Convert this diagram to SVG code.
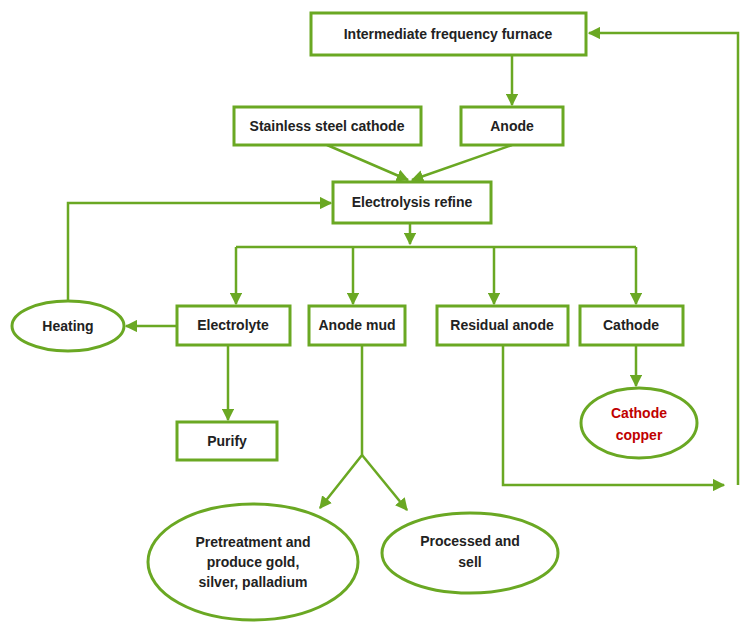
<svg xmlns="http://www.w3.org/2000/svg" width="750" height="634" viewBox="0 0 750 634">
<style>
.b{fill:#fff;stroke:#6aa823;stroke-width:3}
.t{font-family:"Liberation Sans",Arial,sans-serif;font-size:14px;font-weight:bold;fill:#222;text-anchor:middle}
.c{fill:none;stroke:#6aa823;stroke-width:2.5}
</style>
<defs><marker id="a" viewBox="0 0 10 10" refX="9" refY="5" markerWidth="5" markerHeight="5" orient="auto"><path d="M0,0L10,5L0,10z" fill="#6aa823"/></marker></defs>
<rect width="750" height="634" fill="#fff"/>
<g id="connectors" class="c">
<path d="M512,55V105" marker-end="url(#a)"/>
<path d="M327,145L408,180" marker-end="url(#a)"/>
<path d="M512,145L412,180" marker-end="url(#a)"/>
<path d="M410,223V244" marker-end="url(#a)"/>
<path d="M236,247H636"/>
<path d="M236,247V304" marker-end="url(#a)"/>
<path d="M353,247V304" marker-end="url(#a)"/>
<path d="M494,247V304" marker-end="url(#a)"/>
<path d="M636,247V304" marker-end="url(#a)"/>
<path d="M177,326H126" marker-end="url(#a)"/>
<path d="M68,301V203H331" marker-end="url(#a)"/>
<path d="M228,345V420" marker-end="url(#a)"/>
<path d="M362,345V455L320,508" marker-end="url(#a)"/>
<path d="M362,455L407,510" marker-end="url(#a)"/>
<path d="M503,345V485H724" marker-end="url(#a)"/>
<path d="M738,485V33H589" marker-end="url(#a)"/>
<path d="M636,345V386" marker-end="url(#a)"/>
</g>
<g id="furnace"><rect class="b" x="311" y="13" width="275" height="42"/><text class="t" x="448" y="39">Intermediate frequency furnace</text></g>
<g id="ssc"><rect class="b" x="234" y="107" width="187" height="38"/><text class="t" x="327" y="131">Stainless steel cathode</text></g>
<g id="anode"><rect class="b" x="461" y="107" width="102" height="38"/><text class="t" x="512" y="131">Anode</text></g>
<g id="refine"><rect class="b" x="333" y="182" width="158" height="41"/><text class="t" x="412" y="207">Electrolysis refine</text></g>
<g id="electrolyte"><rect class="b" x="177" y="306" width="113" height="39"/><text class="t" x="233" y="330">Electrolyte</text></g>
<g id="mud"><rect class="b" x="309" y="306" width="96" height="39"/><text class="t" x="357" y="330">Anode mud</text></g>
<g id="residual"><rect class="b" x="437" y="306" width="131" height="39"/><text class="t" x="502" y="330">Residual anode</text></g>
<g id="cathode"><rect class="b" x="580" y="306" width="103" height="39"/><text class="t" x="631" y="330">Cathode</text></g>
<g id="purify"><rect class="b" x="177" y="422" width="100" height="38"/><text class="t" x="227" y="446">Purify</text></g>
<g id="heating"><ellipse class="b" cx="68" cy="326" rx="56" ry="25"/><text class="t" x="68" y="331">Heating</text></g>
<g id="copper"><ellipse class="b" cx="639" cy="423" rx="58" ry="35"/><text class="t" x="639" y="418" style="fill:#c00000">Cathode</text><text class="t" x="639" y="440" style="fill:#c00000">copper</text></g>
<g id="pretreat"><ellipse class="b" cx="253" cy="562" rx="105" ry="58"/><text class="t" x="253" y="547">Pretreatment and</text><text class="t" x="253" y="567">produce gold,</text><text class="t" x="253" y="587">silver, palladium</text></g>
<g id="sell"><ellipse class="b" cx="470" cy="553" rx="88" ry="40"/><text class="t" x="470" y="546">Processed and</text><text class="t" x="470" y="567">sell</text></g>
</svg>
